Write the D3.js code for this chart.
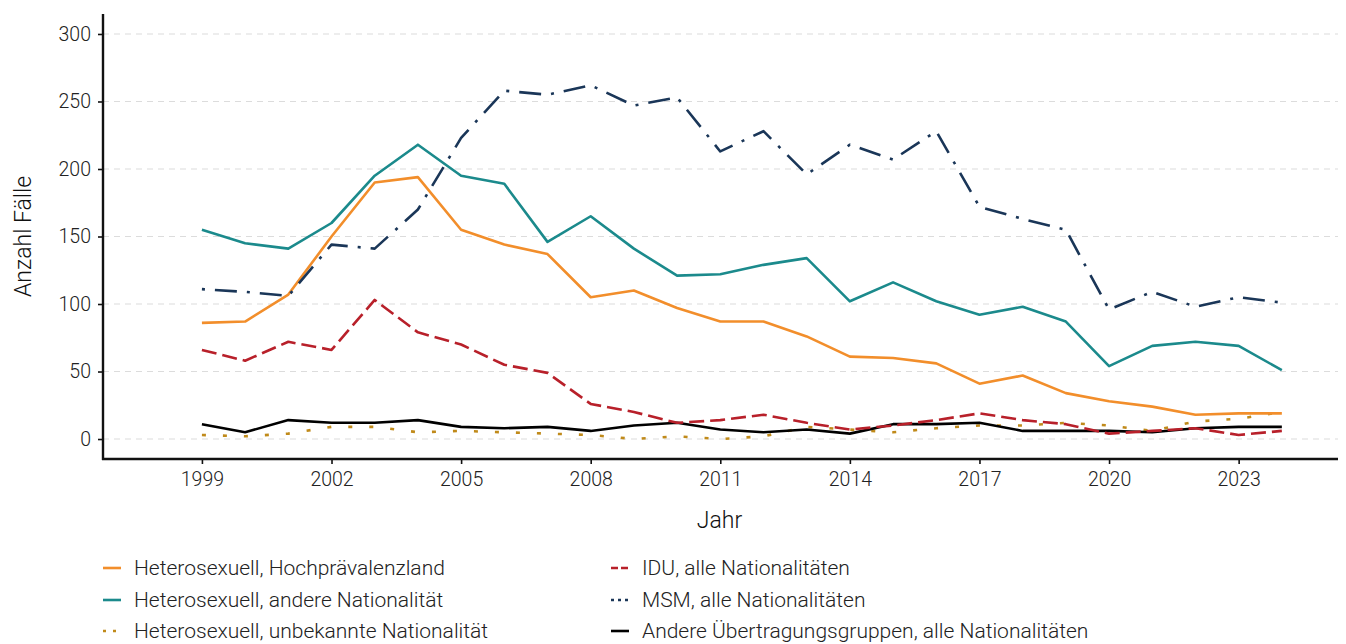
<!DOCTYPE html>
<html>
<head>
<meta charset="utf-8">
<script src="https://cdn.jsdelivr.net/npm/d3@7"></script>
<style>
  body { margin: 0; background: #fff; }
  svg { display: block; }
  text { font-family: "Roboto", "Liberation Sans", sans-serif; font-weight: 300; }
</style>
</head>
<body>
<svg id="chart" width="1346" height="644"></svg>
<script>
const years = [1999,2000,2001,2002,2003,2004,2005,2006,2007,2008,2009,2010,2011,2012,2013,2014,2015,2016,2017,2018,2019,2020,2021,2022,2023,2024];
const heteroHPL   = [86,87,107,150,190,194,155,144,137,105,110,97,87,87,76,61,60,56,41,47,34,28,24,18,19,19];
const heteroAndere= [155,145,141,160,195,218,195,189,146,165,141,121,122,129,134,102,116,102,92,98,87,54,69,72,69,51];
const heteroUnbek = [3,2,4,9,9,5,6,5,4,3,0,2,0,2,9,7,5,8,10,10,12,10,6,13,15,20];
const idu         = [66,58,72,66,103,79,70,55,49,26,20,12,14,18,12,7,10,14,19,14,11,4,6,8,3,6];
const msm         = [111,109,106,144,141,170,223,258,255,262,247,253,213,228,196,218,207,228,172,163,155,96,109,98,105,101];
const andere      = [11,5,14,12,12,14,9,8,9,6,10,12,7,5,7,4,11,11,12,6,6,6,5,8,9,9];
const seriesNames = ["Heterosexuell, Hochprävalenzland","Heterosexuell, andere Nationalität","Heterosexuell, unbekannte Nationalität","IDU, alle Nationalitäten","MSM, alle Nationalitäten","Andere Übertragungsgruppen, alle Nationalitäten"];
const xTicks = [1999,2002,2005,2008,2011,2014,2017,2020,2023];
const yTicks = [0,50,100,150,200,250,300];

const seriesValues = [heteroHPL, heteroAndere, heteroUnbek, idu, msm, andere];
const styles = [
  {color:"#f28e2b", dash:null},
  {color:"#1b8a8c", dash:null},
  {color:"#c08a1a", dash:"4,17"},
  {color:"#b8202a", dash:"15,6"},
  {color:"#1a3658", dash:"3,10,22,10"},
  {color:"#000000", dash:null}
];
const drawOrder = [2,5,3,0,1,4];

const svg = d3.select("#chart");
const L = 103, R = 1338, T = 14, B = 459;
const x = d3.scaleLinear().domain([1996.71, 2025.3]).range([L, R]);
const y = d3.scaleLinear().domain([-14.8, 314.8]).range([B, T]);

svg.append("g").selectAll("line").data(yTicks).join("line")
  .attr("x1", L).attr("x2", R)
  .attr("y1", d => y(d)).attr("y2", d => y(d))
  .attr("stroke", "#dcdcdc").attr("stroke-width", 1.1)
  .attr("stroke-dasharray", "6,5");

const line = d3.line().x((d,i) => x(years[i])).y(d => y(d));
drawOrder.forEach(k => {
  svg.append("path")
    .datum(seriesValues[k])
    .attr("d", line)
    .attr("fill", "none")
    .attr("stroke", styles[k].color)
    .attr("stroke-width", 2.6)
    .attr("stroke-linejoin", "round")
    .attr("stroke-dasharray", styles[k].dash);
});

const xAxis = svg.append("g").attr("transform", `translate(0,${B})`)
  .call(d3.axisBottom(x).tickValues(xTicks).tickFormat(d3.format("d")).tickSize(5).tickPadding(8));
const yAxis = svg.append("g").attr("transform", `translate(${L},0)`)
  .call(d3.axisLeft(y).tickValues(yTicks).tickSize(5).tickPadding(7));
[xAxis, yAxis].forEach(a => {
  a.select(".domain").attr("stroke", "#111").attr("stroke-width", 2.4);
  a.selectAll(".tick line").attr("stroke", "#111").attr("stroke-width", 1.6);
  a.selectAll(".tick text").attr("fill", "#222").style("font-size", "19.5px")
    .style("font-family", "Roboto, sans-serif").style("font-weight", "300");
});
yAxis.select(".domain").attr("d", `M0,${T}V${B + 1}`);
xAxis.select(".domain").attr("d", `M${L - 1},0H${R}`);

svg.append("text").attr("x", (L + R) / 2 - 1).attr("y", 528)
  .attr("text-anchor", "middle").attr("fill", "#111").style("font-size", "23px").text("Jahr");
svg.append("text").attr("transform", `translate(31,${(T + B) / 2}) rotate(-90)`)
  .attr("text-anchor", "middle").attr("fill", "#111").style("font-size", "23px").text("Anzahl Fälle");

const legendPos = [
  {kx:103, ty:568}, {kx:103, ty:600}, {kx:103, ty:631},
  {kx:611, ty:568}, {kx:611, ty:600}, {kx:611, ty:631}
];
seriesNames.forEach((name, k) => {
  const p = legendPos[k];
  const g = svg.append("g");
  g.append("line").attr("x1", p.kx).attr("x2", p.kx + 18)
    .attr("y1", p.ty).attr("y2", p.ty)
    .attr("stroke", styles[k].color).attr("stroke-width", 2.6)
    .attr("stroke-dasharray", styles[k].dash ? (k === 2 ? "3,7" : k === 3 ? "7,3" : "3,4") : null);
  g.append("text").attr("x", p.kx + 31).attr("y", p.ty).attr("dy", "0.33em")
    .attr("fill", "#222").style("font-size", "21px").text(name);
});
</script>
</body>
</html>
